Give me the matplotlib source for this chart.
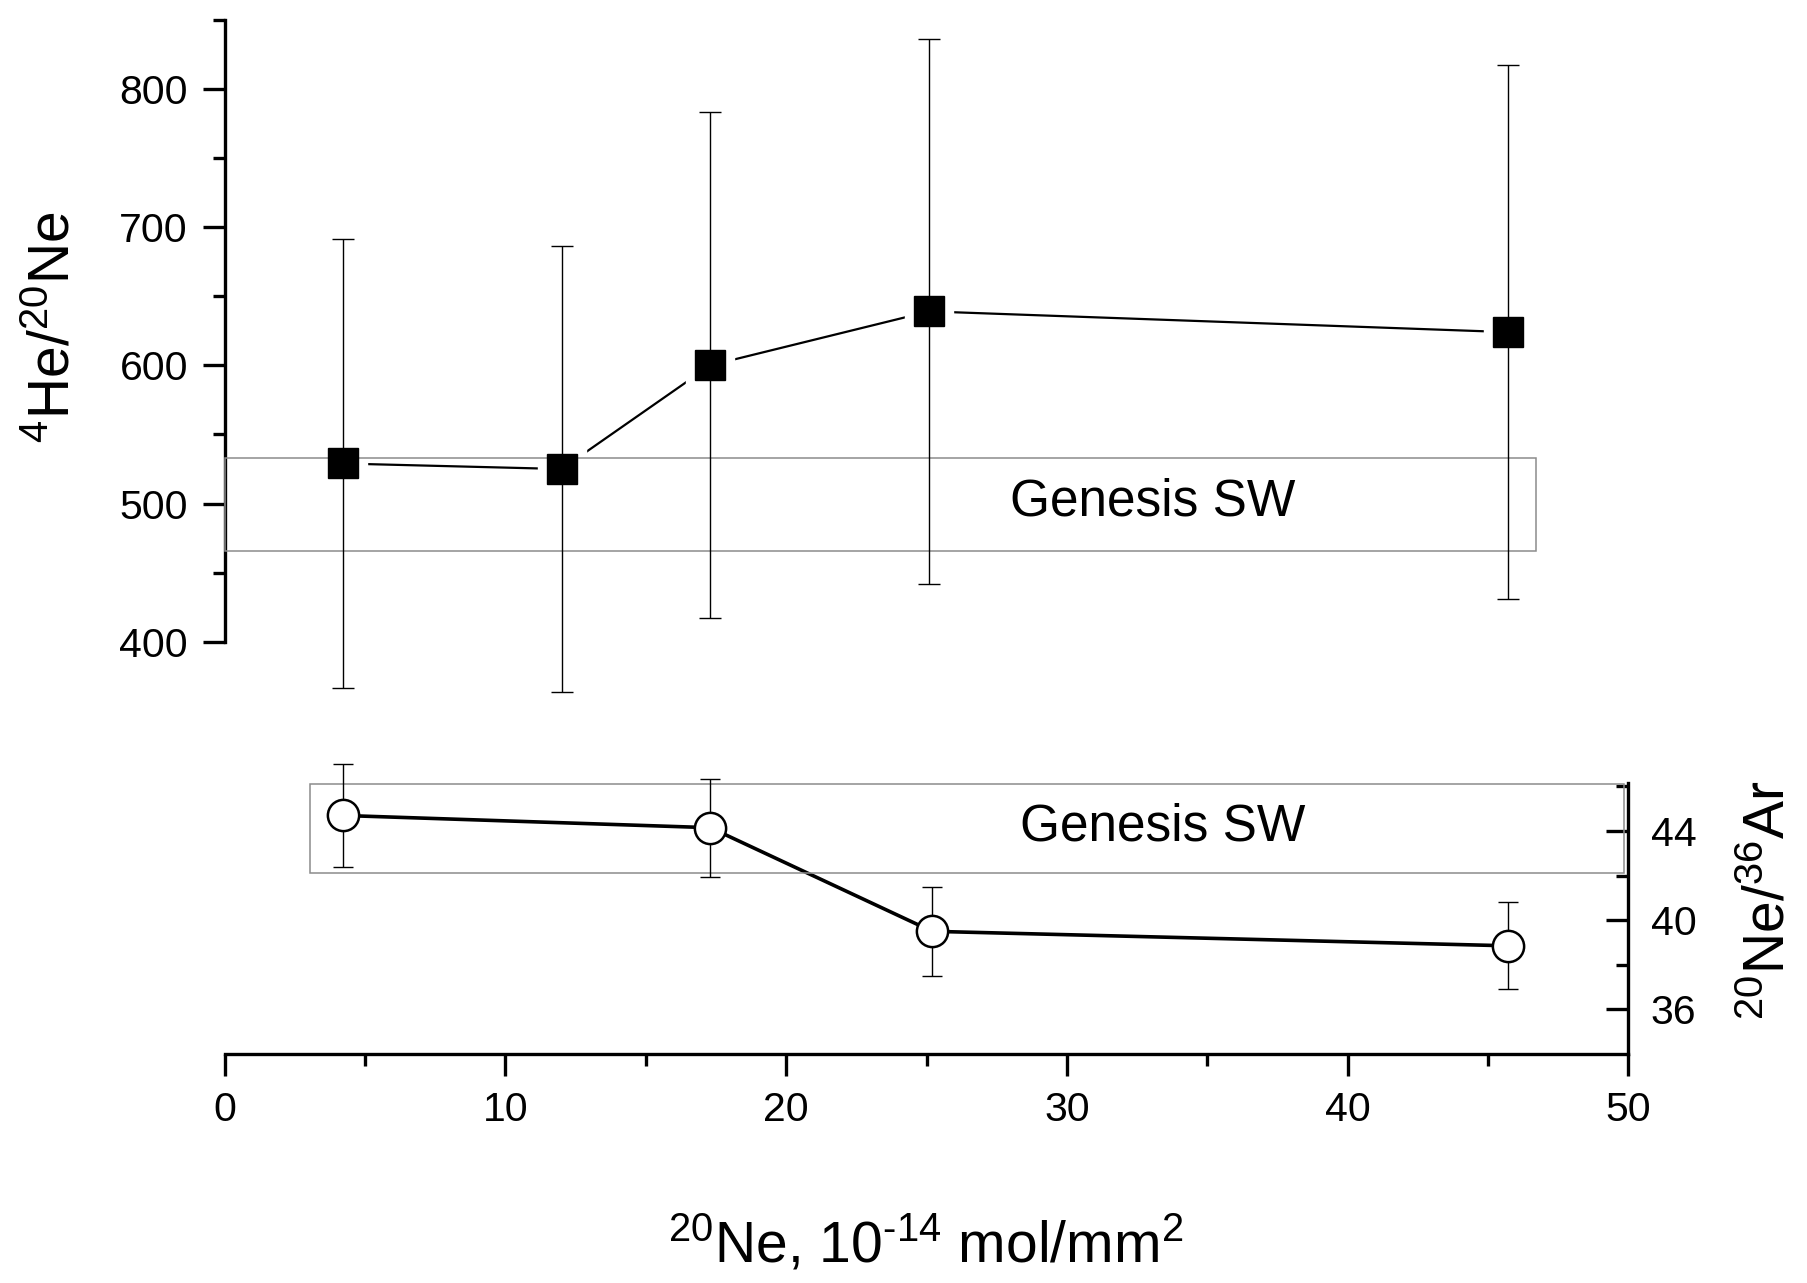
import matplotlib
matplotlib.use("Agg")
import matplotlib.pyplot as plt
from matplotlib.patches import Rectangle

plt.rcParams['font.family'] = ['Liberation Sans', 'DejaVu Sans']
plt.rcParams['mathtext.fontset'] = 'custom'
plt.rcParams['mathtext.rm'] = 'Liberation Sans'
plt.rcParams['mathtext.it'] = 'Liberation Sans:italic'
plt.rcParams['mathtext.bf'] = 'Liberation Sans:bold'

# 4He/20Ne ratios vs implanted 20Ne
ne20_he = [4.2, 12.0, 17.3, 25.1, 45.7]
he_ne = [529, 525, 600, 639, 624]
he_ne_err = [162, 161, 183, 197, 193]

# 20Ne/36Ar ratios
ne20_ar = [4.2, 17.3, 25.2, 45.7]
ne_ar = [44.7, 44.15, 39.5, 38.85]
ne_ar_err = [2.3, 2.2, 2.0, 1.95]

# Genesis solar wind reference bands (x0, x1, y0, y1) and label spots
genesis_he = (0.0, 46.7, 466, 533)
genesis_ar = (3.05, 49.85, 42.1, 46.1)
genesis_he_label = (33.05, 501)
genesis_ar_label = (33.4, 44.2)

fig = plt.figure(figsize=(18.07, 12.83), dpi=100)
ax1 = fig.add_axes([0.1244, 0.4458, 0.7767, 0.5411])
ax2 = fig.add_axes([0.1244, 0.1786, 0.7767, 0.2110])

spine_w = 2.4
tick_fs = 29.5
maj_len, min_len = 15.5, 8.3
for ax in (ax1, ax2):
    ax.set_xlim(0, 50)
    ax.patch.set_alpha(0)
    for s in ax.spines.values():
        s.set_linewidth(spine_w)

# upper panel
ax1.set_ylim(350, 852)
for side in ('top', 'right', 'bottom'):
    ax1.spines[side].set_visible(False)
ax1.spines['left'].set_bounds(400, 850)
ax1.set_xticks([])
ax1.set_yticks([400, 500, 600, 700, 800])
ax1.set_yticks([450, 550, 650, 750, 850], minor=True)
ax1.tick_params(axis='y', which='major', direction='out', length=maj_len, width=spine_w,
                pad=11, labelsize=tick_fs)
ax1.tick_params(axis='y', which='minor', direction='out', length=min_len, width=spine_w)

x0, x1, y0, y1 = genesis_he
ax1.add_patch(Rectangle((x0, y0), x1 - x0, y1 - y0, fill=False, ec='#8c8c8c',
                        lw=1.1, zorder=4, clip_on=False))
ax1.text(*genesis_he_label, 'Genesis SW', fontsize=37, ha='center', va='center', zorder=4)

ax1.plot(ne20_he, he_ne, color='black', lw=1.6, zorder=2, clip_on=False)
ax1.plot(ne20_he, he_ne, ls='none', marker='s', ms=34, mfc='white', mec='white',
         zorder=3, clip_on=False)
ax1.errorbar(ne20_he, he_ne, yerr=he_ne_err, fmt='none', ecolor='black',
             elinewidth=1.0, capsize=8, capthick=1.0, zorder=5, clip_on=False)
ax1.plot(ne20_he, he_ne, ls='none', marker='s', ms=21, mfc='black', mec='black',
         zorder=6, clip_on=False)

# lower panel
ax2.set_ylim(34, 46.15)
for side in ('top', 'left'):
    ax2.spines[side].set_visible(False)
ax2.yaxis.tick_right()
ax2.set_yticks([36, 40, 44])
ax2.set_yticks([38, 42, 46], minor=True)
ax2.tick_params(axis='y', which='major', direction='in', length=maj_len, width=spine_w,
                pad=16, labelsize=tick_fs)
ax2.tick_params(axis='y', which='minor', direction='in', length=min_len, width=spine_w)
ax2.set_xticks([0, 10, 20, 30, 40, 50])
ax2.set_xticks([5, 15, 25, 35, 45], minor=True)
ax2.tick_params(axis='x', which='major', direction='out', length=maj_len, width=spine_w,
                pad=11.5, labelsize=tick_fs)
ax2.tick_params(axis='x', which='minor', direction='out', length=min_len, width=spine_w)

x0, x1, y0, y1 = genesis_ar
ax2.add_patch(Rectangle((x0, y0), x1 - x0, y1 - y0, fill=False, ec='#8c8c8c',
                        lw=1.1, zorder=4, clip_on=False))
ax2.text(*genesis_ar_label, 'Genesis SW', fontsize=37, ha='center', va='center', zorder=4)

ax2.plot(ne20_ar, ne_ar, color='black', lw=2.6, zorder=2, clip_on=False)
ax2.errorbar(ne20_ar, ne_ar, yerr=ne_ar_err, fmt='none', ecolor='black',
             elinewidth=1.0, capsize=7.5, capthick=1.0, zorder=5, clip_on=False)
ax2.plot(ne20_ar, ne_ar, ls='none', marker='o', ms=22.5, mfc='white', mec='black',
         mew=1.8, zorder=6, clip_on=False)

fig.text(0.030, 0.745, r'$\mathregular{^{4}}$He/$\mathregular{^{20}}$Ne', fontsize=41,
         rotation=90, ha='center', va='center')
fig.text(0.979, 0.298, r'$\mathregular{^{20}}$Ne/$\mathregular{^{36}}$Ar', fontsize=41,
         rotation=90, ha='center', va='center')
fig.text(0.512, 0.030,
         '$\\mathregular{^{20}}$Ne, 10$\\mathregular{^{\u201014}}$ mol/mm$\\mathregular{^{2}}$',
         fontsize=41, ha='center', va='center')

fig.savefig('out.png', dpi=100, facecolor='white')
